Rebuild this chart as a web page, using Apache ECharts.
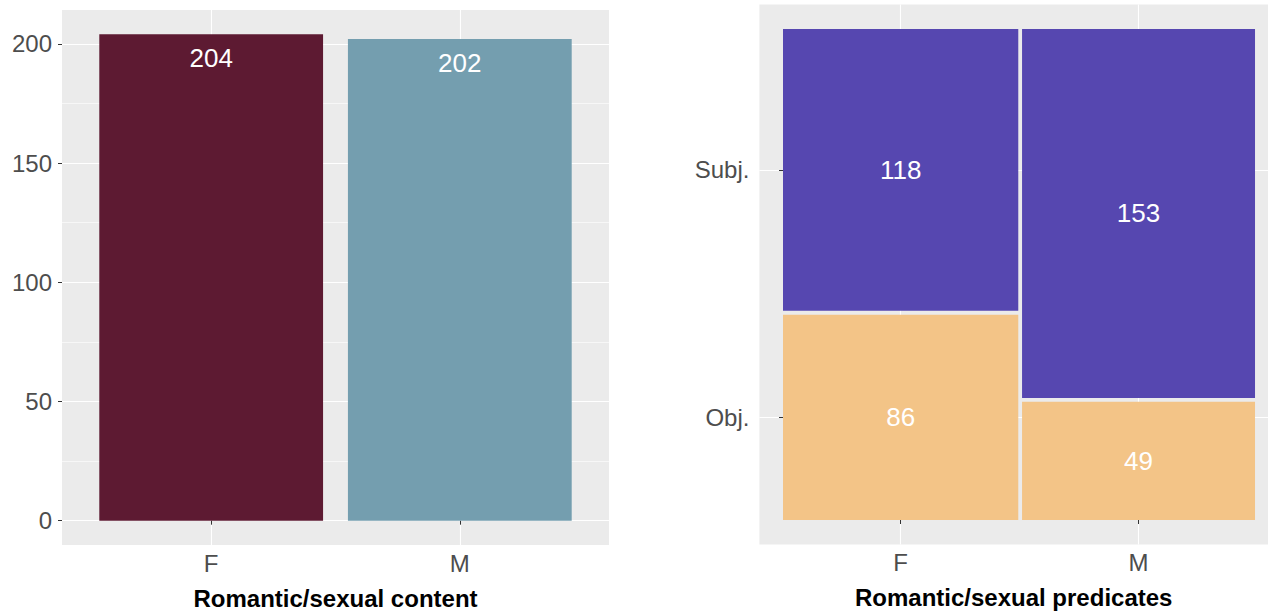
<!DOCTYPE html>
<html>
<head>
<meta charset="utf-8">
<script src="https://cdn.jsdelivr.net/npm/echarts@6/dist/echarts.min.js"></script>
<style>
html,body{margin:0;padding:0;background:#fff;overflow:hidden;}
#chart{width:1268px;height:615px;}
</style>
</head>
<body>
<div id="chart"></div>
<script>
// ---- data ----
const contentCats = ['F', 'M'];
const contentCounts = [204, 202];
const contentTicks = [0, 50, 100, 150, 200];
const contentMinorTicks = [25, 75, 125, 175];

const predCats = ['F', 'M'];
const predRoles = ['Obj.', 'Subj.'];      // bottom to top
const objCounts = [86, 49];
const subjCounts = [118, 153];

// ---- styles ----
const contentColors = ['#5D1A32', '#749EAF'];
const roleColors = ['#F3C487', '#5647B0'];
const FONT = '"Liberation Sans", Arial, sans-serif';
const tickLabel = { color: '#4D4D4D', fontSize: 24, fontFamily: FONT };
const tickStyle = { show: true, length: 4, lineStyle: { color: '#333333', width: 1 } };
const nameStyle = { color: '#000', fontSize: 24, fontWeight: 'bold', fontFamily: FONT };

// ---- mosaic geometry (from counts) ----
const gap = 0.008;
const colTotals = predCats.map((c, i) => objCounts[i] + subjCounts[i]);
const grand = colTotals.reduce((a, b) => a + b, 0);
const mosaic = [];
const colCenters = [];
let xStart = 0;
predCats.forEach((c, i) => {
  const w = (1 - gap * (predCats.length - 1)) * colTotals[i] / grand;
  const x0 = xStart, x1 = xStart + w;
  colCenters.push((x0 + x1) / 2);
  const segs = [objCounts[i], subjCounts[i]];
  let yStart = 0;
  segs.forEach((n, j) => {
    const h = (1 - gap * (segs.length - 1)) * n / colTotals[i];
    mosaic.push([x0, x1, yStart, yStart + h, n, j]);
    yStart += h + gap;
  });
  xStart = x1 + gap;
});
// y labels at the segment centres of the first column
const roleCenters = mosaic.filter(d => d[0] === 0).map(d => (d[2] + d[3]) / 2);

function nearestLabel(v, vals, labels) {
  let best = 0, bd = Infinity;
  vals.forEach((t, i) => { const d = Math.abs(t - v); if (d < bd) { bd = d; best = i; } });
  return labels[best];
}

const chart = echarts.init(document.getElementById('chart'), null, { renderer: 'svg' });

const option = {
  animation: false,
  backgroundColor: '#ffffff',
  grid: [
    { left: 62, top: 10, width: 547, height: 535, show: true, backgroundColor: '#EBEBEB', borderWidth: 0, containLabel: false },
    { left: 759.4, top: 4.45, width: 508.6, height: 540.1, show: true, backgroundColor: '#EBEBEB', borderWidth: 0, containLabel: false }
  ],
  xAxis: [
    {
      gridIndex: 0, type: 'value', min: 0.4, max: 2.6,
      axisLine: { show: false },
      axisTick: Object.assign({}, tickStyle, { customValues: [1, 2] }),
      axisLabel: Object.assign({}, tickLabel, { customValues: [1, 2], margin: 6,
        formatter: v => nearestLabel(v, [1, 2], contentCats) }),
      splitLine: { show: true, lineStyle: { color: '#ffffff', width: 1.1 } },
      name: 'Romantic/sexual content', nameLocation: 'middle', nameGap: 41,
      nameTextStyle: nameStyle
    },
    {
      gridIndex: 1, type: 'value', min: -0.05, max: 1.0275,
      axisLine: { show: false },
      axisTick: Object.assign({}, tickStyle, { customValues: colCenters }),
      axisLabel: Object.assign({}, tickLabel, { customValues: colCenters, margin: 6,
        formatter: v => nearestLabel(v, colCenters, predCats) }),
      splitLine: { show: true, lineStyle: { color: '#ffffff', width: 1.1 } },
      name: 'Romantic/sexual predicates', nameLocation: 'middle', nameGap: 41,
      nameTextStyle: nameStyle
    }
  ],
  yAxis: [
    {
      gridIndex: 0, type: 'value', min: -10.2, max: 214.2,
      axisLine: { show: false },
      axisTick: Object.assign({}, tickStyle, { customValues: contentTicks }),
      axisLabel: Object.assign({}, tickLabel, { customValues: contentTicks, margin: 10 }),
      splitLine: { show: true, lineStyle: { color: '#ffffff', width: 1.1 } }
    },
    {
      gridIndex: 0, type: 'value', min: -10.2, max: 214.2, position: 'left',
      axisLine: { show: false },
      axisTick: { show: false, customValues: contentMinorTicks },
      axisLabel: { show: false, customValues: contentMinorTicks },
      splitLine: { show: true, lineStyle: { color: '#ffffff', width: 0.6 } }
    },
    {
      gridIndex: 1, type: 'value', min: -0.05, max: 1.05,
      axisLine: { show: false },
      axisTick: Object.assign({}, tickStyle, { customValues: roleCenters }),
      axisLabel: Object.assign({}, tickLabel, { customValues: roleCenters, margin: 10,
        formatter: v => nearestLabel(v, roleCenters, predRoles) }),
      splitLine: { show: true, lineStyle: { color: '#ffffff', width: 1.1 } }
    }
  ],
  series: [
    {
      type: 'custom', xAxisIndex: 0, yAxisIndex: 0,
      data: contentCounts.map((v, i) => [i + 1, v]),
      renderItem: function (params, api) {
        const x = api.value(0), y = api.value(1);
        const p0 = api.coord([x - 0.45, y]);
        const p1 = api.coord([x + 0.45, 0]);
        return {
          type: 'group', children: [
            { type: 'rect', shape: { x: p0[0], y: p0[1], width: p1[0] - p0[0], height: p1[1] - p0[1] },
              style: { fill: contentColors[params.dataIndex] } },
            { type: 'text', style: { text: String(y), x: (p0[0] + p1[0]) / 2, y: p0[1] + 24,
              fill: '#ffffff', fontSize: 26, fontFamily: FONT, align: 'center', verticalAlign: 'middle' } }
          ]
        };
      }
    },
    {
      type: 'custom', xAxisIndex: 1, yAxisIndex: 2,
      data: mosaic,
      renderItem: function (params, api) {
        const x0 = api.value(0), x1 = api.value(1), y0 = api.value(2), y1 = api.value(3);
        const n = api.value(4), role = api.value(5);
        const a = api.coord([x0, y1]);
        const b = api.coord([x1, y0]);
        return {
          type: 'group', children: [
            { type: 'rect', shape: { x: a[0], y: a[1], width: b[0] - a[0], height: b[1] - a[1] },
              style: { fill: roleColors[role] } },
            { type: 'text', style: { text: String(n), x: (a[0] + b[0]) / 2, y: (a[1] + b[1]) / 2,
              fill: '#ffffff', fontSize: 26, fontFamily: FONT, align: 'center', verticalAlign: 'middle' } }
          ]
        };
      }
    }
  ]
};
chart.setOption(option);
</script>
</body>
</html>
